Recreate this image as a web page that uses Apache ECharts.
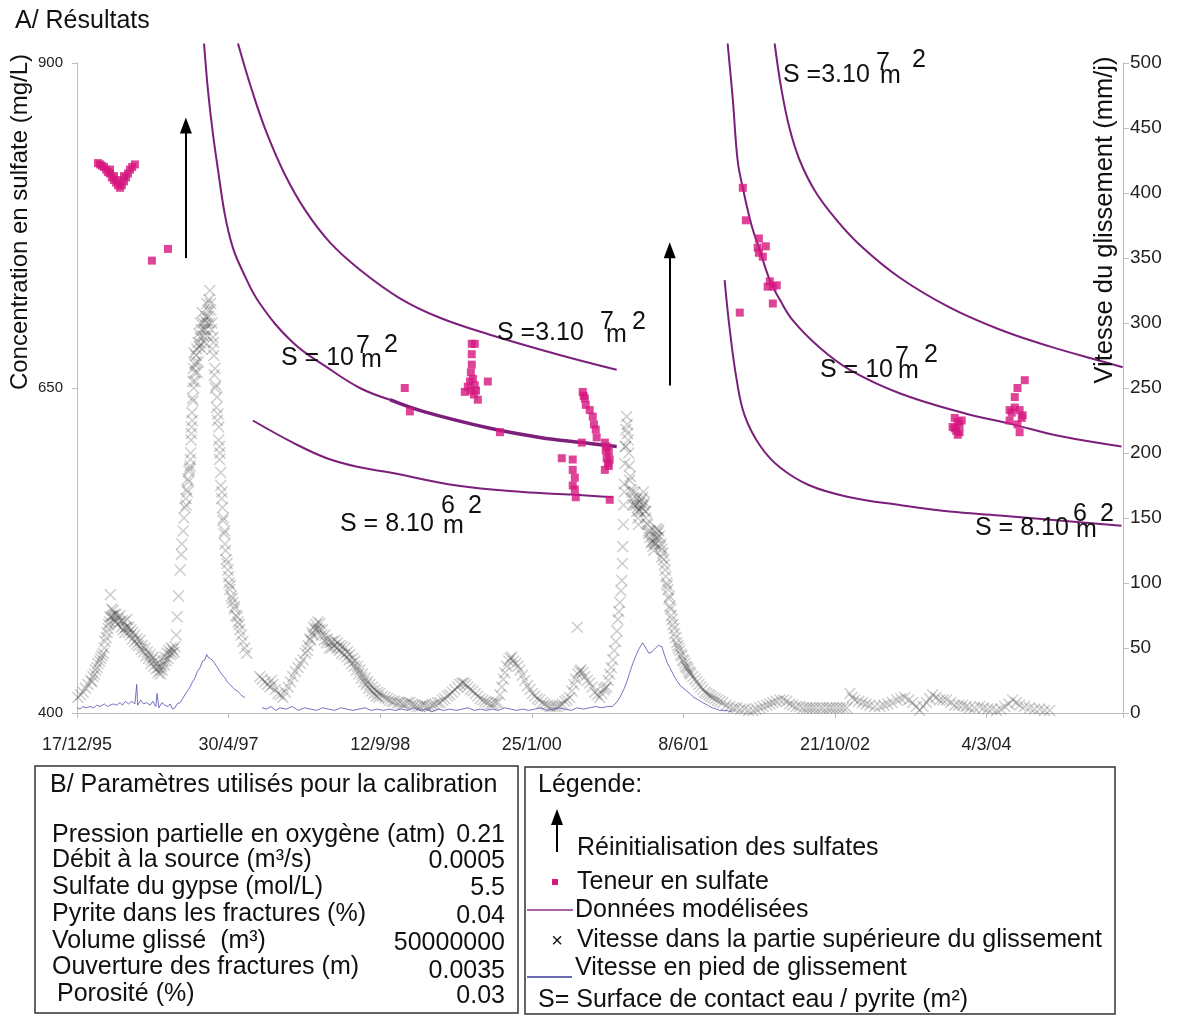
<!DOCTYPE html>
<html><head><meta charset="utf-8">
<script src="https://cdn.jsdelivr.net/npm/echarts@6/dist/echarts.min.js"></script>
<style>html,body{margin:0;padding:0;background:#fff}#c{width:1177px;height:1017px}</style>
</head><body><div id="c"></div>
<script>
// x values = days since 17/12/95
const tickLabels = ['17/12/95','30/4/97','12/9/98','25/1/00','8/6/01','21/10/02','4/3/04'];

// Teneur en sulfate (mg/L), left axis
const sulfate = [
[69,823],[76,822],[82,821],[89,820],[96,818],[102,816],[109,815],[115,812],[122,810],[129,808],[135,806],[142,804],[148,806],[155,809],[162,812],[168,815],[175,818],[182,820],[191,822],[109,818],[122,813],[135,810],[155,813],
[247,748],[300,757],
[1081,650],[1098,632],
[1302,684],[1312,684],[1302,676],[1302,668],[1299,662],[1296,655],[1306,657],[1289,651],[1279,647],[1299,648],[1312,652],[1316,648],[1309,645],[1355,655],[1322,641],
[1395,616],
[1599,596],[1635,595],[1635,587],[1642,581],[1635,575],[1642,572],[1645,566],
[1668,647],[1671,644],[1675,642],[1678,637],[1691,633],[1701,628],[1705,622],[1711,618],[1714,612],[1665,608],
[1741,608],[1744,602],[1747,596],[1751,592],[1754,601],[1741,587],[1757,595],[1747,605],[1754,590],[1757,564],
[2196,804],[2206,779],[2249,765],[2245,758],[2272,759],[2249,754],[2262,751],[2285,732],[2278,728],[2308,729],[2295,728],[2295,715],[2186,708],
[2895,627],[2905,624],[2911,622],[2895,619],[2911,616],[2905,614],[2918,625],[2888,620],[2900,617],
[3126,656],[3102,650],[3093,643],[3076,633],[3083,631],[3109,633],[3119,629],[3076,625],[3102,622],[3109,616],[3093,635],[3116,627]
];

// Données modélisées (mg/L), left axis
const modelS1e7a = [[419,915],[432,879],[448,846],[465,818],[488,783],[514,758],[544,741],[603,715],[712,685],[824,666],[933,650],[1032,641]];
const modelS1e7aTail = [[1032,641],[1141,632],[1362,619],[1527,612],[1668,608],[1780,605]];
const modelS3e7a = [[531,915],[577,879],[626,846],[686,814],[752,787],[834,762],[933,741],[1065,719],[1197,704],[1362,691],[1583,676],[1780,664]];
const modelS8e6a = [[580,625],[712,608],[824,596],[933,589],[1032,585],[1253,575],[1470,570],[1635,568],[1767,566]];
const modelS3e7b = [[2301,915],[2324,879],[2351,849],[2384,825],[2433,802],[2499,781],[2582,760],[2713,735],[2878,712],[3043,695],[3208,682],[3373,671],[3449,666]];
const modelS1e7b = [[2146,915],[2163,872],[2179,825],[2196,804],[2225,775],[2252,756],[2285,733],[2318,718],[2361,702],[2450,681],[2549,664],[2713,646],[2921,631],[3086,622],[3241,613],[3445,605]];
const modelS8e6b = [[2136,733],[2153,695],[2176,656],[2202,629],[2252,606],[2318,589],[2417,575],[2549,566],[2713,560],[2878,555],[3043,552],[3241,548],[3445,544]];

// Vitesse dans la partie supérieure du glissement (mm/j), right axis
const vitesseHaut = [
[3,12],[12,14],[20,16],[28,19],[36,22],[45,25],[53,28],[61,33],[69,38],[78,42],[86,46],[92,55],[99,62],[104,68],[109,74],[114,80],[119,79],[124,76],[129,76],[135,73],[142,75],[148,71],[155,70],[160,66],[165,72],[171,66],[178,64],[184,62],[191,60],[198,57],[208,56],[215,52],[224,50],[232,47],[241,45],[246,41],[251,43],[257,40],[264,38],[269,35],[274,33],[279,36],[284,40],[290,43],[297,46],[303,48],[310,50],[316,49],[323,51],[327,60],[330,74],[335,90],[340,110],[344,122],[346,130],[350,140],[353,150],[356,158],[359,165],[362,172],[366,180],[369,186],[373,190],[375,200],[376,210],[378,220],[379,231],[381,242],[382,255],[384,265],[386,277],[389,268],[392,270],[395,280],[399,285],[402,292],[406,289],[409,284],[412,280],[416,300],[419,295],[422,302],[425,305],[428,315],[432,310],[435,318],[438,325],[441,310],[445,300],[448,289],[451,275],[455,265],[458,252],[462,243],[465,230],[468,220],[470,205],[471,200],[474,185],[478,170],[480,158],[481,148],[485,138],[488,130],[492,118],[498,110],[501,100],[504,95],[509,90],[514,85],[519,80],[524,75],[531,70],[537,64],[542,60],[547,55],[553,50],[560,46],[110,91],
[50,24],[58,30],[66,35],[74,40],[82,44],[90,50],[97,58],[103,65],[108,70],[113,74],[118,75],[123,72],[128,70],[133,68],[140,70],[146,66],[152,64],[158,62],[164,66],[170,62],[176,60],[183,57],[190,55],[197,53],[204,52],[212,49],[220,47],[228,44],[236,42],[244,38],[253,36],[261,34],[268,31],[276,30],[282,33],[288,37],[294,40],[300,42],[307,45],[313,46],[320,47],
[360,160],[364,170],[368,178],[371,188],[374,195],[377,215],[380,225],[383,240],[385,250],[388,262],[390,255],[393,275],[396,262],[400,270],[403,282],[407,300],[410,295],[413,308],[417,290],[420,285],[424,295],[427,300],[430,290],[433,305],[436,300],[440,315],[443,295],[446,280],[450,285],[453,260],[456,250],[460,235],[463,225],[467,210],[470,195],[474,175],[477,165],[483,150],[487,140],[490,125],[495,115],[500,105],[506,98],[512,88],[520,82],[528,74],[535,68],
[603,28],[611,26],[620,24],[628,22],[636,20],[641,25],[646,22],[654,18],[663,15],[671,14],[679,12],[687,16],[696,20],[704,24],[712,28],[720,32],[729,35],[737,38],[745,41],[753,46],[762,52],[768,57],[775,62],[781,66],[788,68],[795,70],[801,69],[809,64],[818,60],[826,57],[834,54],[842,55],[851,56],[859,54],[867,52],[875,51],[884,50],[892,47],[900,45],[909,42],[917,40],[925,36],[933,33],[942,30],[950,27],[958,24],[966,22],[975,20],[983,18],[991,16],[999,15],[1008,13],[1016,12],[1024,11],[1032,10],[1040,9],[1048,9],[1057,8],[1065,8],[1073,7],[1081,7],[1090,8],[1098,8],[1106,7],[1114,6],[1122,5],[1131,5],[1139,6],[1147,6],[1155,5],[1164,5],[1172,6],[1180,7],[1189,8],[1197,8],[1205,10],[1213,11],[1222,13],[1230,14],[1238,16],[1246,18],[1255,20],[1263,22],[1270,23],[1276,23],[1283,22],[1289,20],[1297,18],[1306,17],[1314,15],[1322,13],[1330,11],[1339,10],[1347,9],[1355,8],[1364,7],[1372,7],[1380,8],[1388,8],[1395,14],[1401,20],[1406,26],[1411,31],[1417,36],[1424,40],[1429,42],[1434,43],[1440,40],[1447,38],[1454,36],[1461,33],[1469,29],[1477,25],[1486,21],[1494,18],[1502,15],[1510,13],[1518,11],[1526,10],[1535,8],[1543,7],[1551,6],[1559,5],[1567,5],[1576,5],[1584,5],[1592,6],[1600,7],[1609,9],[1617,10],[1625,12],[1632,17],[1639,22],[1645,26],[1652,30],[1657,32],[1662,33],[1668,31],[1675,28],[1683,25],[1691,23],[1699,20],[1708,16],[1716,14],[1724,12],[1731,15],[1737,18],[1742,19],[1747,20],[1752,25],[1757,30],[1762,35],[1767,41],[1772,48],[1777,55],[1781,63],[1784,72],[1787,78],[1790,85],[1794,94],[1797,102],[1799,115],[1800,128],[1802,145],[1803,160],[1805,176],[1807,192],[1808,205],[1810,218],[1813,228],[1816,215],[1820,200],[1823,179],[1828,172],[1833,165],[1838,162],[1843,160],[1846,155],[1850,150],[1853,156],[1856,162],[1861,164],[1866,166],[1869,160],[1873,155],[1876,150],[1879,146],[1884,140],[1889,135],[1894,131],[1899,128],[1904,131],[1909,135],[1913,138],[1916,141],[1921,136],[1926,130],[1929,126],[1932,123],[1937,114],[1942,105],[1945,100],[1949,95],[1952,88],[1955,82],[1960,75],[1965,68],[1971,61],[1978,54],[1984,50],[1991,45],[1998,41],[2005,38],[2011,35],[2018,32],[2024,30],[2031,28],[2038,26],[2044,24],[2051,22],[2057,20],[2064,18],[2071,16],[2077,15],[2084,14],[2090,13],[2097,12],[2105,11],[2113,10],[2121,9],[2130,8],[2141,6],[2153,5],[2165,4],[2176,4],[2189,3],[2202,3],[2215,2],[2229,2],[2240,3],[2252,4],[2263,5],[2275,6],[2285,7],[2295,8],[2306,9],[2318,10],[2330,10],[2341,9],[2351,7],[2361,6],[2372,5],[2384,5],[2395,4],[2407,4],[2417,4],[2427,4],[2437,4],[2450,4],[2460,4],[2473,4],[2483,4],[2493,4],[2505,4],[2516,4],[2527,4],[2539,4],[2549,15],[2557,12],[2565,10],[2578,9],[2591,8],[2603,7],[2615,6],[2631,5],[2648,5],[2661,6],[2674,7],[2689,8],[2704,10],[2717,11],[2730,12],[2743,10],[2756,8],[2768,5],[2779,2],[2791,5],[2802,8],[2812,11],[2822,14],[2833,12],[2845,10],[2856,10],[2868,10],[2882,8],[2895,6],[2908,6],[2921,6],[2933,5],[2944,4],[2960,4],[2977,5],[2990,4],[3004,3],[3018,3],[3033,2],[3047,3],[3060,5],[3073,7],[3086,10],[3098,8],[3109,6],[3125,5],[3142,4],[3158,3],[3175,3],[3191,2],[3208,2],[1650,66],
[760,48],[770,56],[778,60],[786,64],[793,65],[800,64],[807,60],[815,56],[823,54],[832,50],[840,50],[849,52],[857,50],[865,48],[873,46],[882,45],[890,43],[898,41],[906,38],[914,36],[922,33],[930,30],[938,27],[946,24],[954,22],[962,19],[971,17],[979,15],[987,13],[995,12],
[1805,170],[1810,205],[1815,222],[1818,210],[1822,190],[1825,182],[1830,170],[1835,160],[1840,170],[1845,165],[1848,158],[1852,145],[1858,155],[1863,158],[1868,170],[1872,162],[1877,155],[1882,145],[1886,138],[1891,140],[1896,132],[1902,125],[1907,130],[1911,142],[1915,135],[1919,140],[1924,128],[1928,120],[1935,118],[1940,110],[1947,98],[1954,90],[1958,80],[1963,72],[1969,65],[1975,58],[1982,52],[1988,48],[1995,44],[2001,40],[2008,36],[2015,34],[2021,31]
];

// Vitesse en pied de glissement (mm/j), right axis
const vitessePiedA = [[0,4],[10,3],[20,5],[30,4],[43,5],[55,4],[65,6],[76,5],[90,7],[100,5],[109,6],[120,7],[130,6],[142,8],[150,6],[160,9],[170,7],[180,9],[191,7],[197,22],[200,6],[210,10],[220,7],[230,8],[241,6],[250,9],[260,5],[264,15],[270,4],[280,8],[290,6],[300,5],[307,7],[315,3],[323,4],[330,7],[340,8],[348,11],[356,14],[364,17],[373,20],[381,24],[389,27],[397,32],[406,35],[414,40],[422,41],[428,45],[432,43],[438,44],[445,41],[450,42],[455,38],[463,35],[471,32],[480,29],[488,27],[496,24],[504,22],[512,20],[521,18],[529,17],[537,15],[545,13],[554,12]];
const vitessePiedB = [[610,4],[625,3],[640,5],[655,2],[670,4],[690,3],[710,5],[730,2],[750,4],[770,3],[790,2],[810,4],[830,3],[850,2],[870,4],[890,3],[910,2],[930,3],[950,4],[970,2],[990,3],[1010,2],[1030,3],[1050,2],[1070,3],[1090,2],[1110,4],[1130,2],[1150,3],[1170,1],[1190,3],[1210,2],[1230,3],[1250,2],[1270,3],[1290,4],[1310,2],[1330,3],[1350,2],[1370,3],[1390,2],[1410,4],[1430,3],[1450,2],[1470,3],[1490,2],[1510,3],[1530,4],[1550,2],[1570,3],[1590,4],[1610,3],[1630,2],[1650,4],[1670,3],[1690,4],[1710,5],[1730,4],[1750,5],[1765,5],[1775,7],[1785,10],[1795,14],[1805,19],[1815,25],[1823,31],[1833,38],[1845,45],[1855,50],[1866,54],[1876,50],[1886,46],[1896,47],[1908,50],[1918,52],[1929,51],[1940,43],[1948,38],[1955,35],[1966,30],[1978,25],[1990,21],[2005,18],[2021,15],[2035,12],[2050,10],[2064,8],[2080,6],[2095,4],[2110,3],[2120,2],[2140,2],[2160,1]];

// Réinitialisation des sulfates (arrows), [day, mg/L] start -> end
const resets = [[[359,750],[359,852]],[[1955,652],[1955,756]]];

const FONT = '"Liberation Sans", Arial, sans-serif';
const PURPLE = '#7b1f7b';
const MAGENTA = '#d6177f';
const BLUE = '#5b5bb8';
const XSYM = 'path://M0,0.9 L0.9,0 L5,4.1 L9.1,0 L10,0.9 L5.9,5 L10,9.1 L9.1,10 L5,5.9 L0.9,10 L0,9.1 L4.1,5 Z';

function modelSeries(data, w) {
  return {type:'line', yAxisIndex:0, data:data, smooth:0.4, symbol:'none', clip:false, z:4,
    lineStyle:{color:PURPLE, width:w||2}, silent:true};
}

function txt(text, x, y, size, opts) {
  opts = opts || {};
  return {type:'text', x:x, y:y, rotation:opts.rot||0, z:100,
    style:{text:text, fontSize:size, fontFamily:FONT, fill:opts.fill||'#111',
      align:opts.align||'left', verticalAlign:'middle'}};
}
function sLabel(parts) {
  return parts.map(p => txt(p[0], p[1], p[2], 25));
}

const BF = 25;
const graphics = [
  txt('A/ Résultats', 15, 21, 25),
  txt('Concentration en sulfate (mg/L)', 20, 222, 24, {rot:Math.PI/2, align:'center'}),
  txt('Vitesse du glissement (mm/j)', 1105, 220, 25.5, {rot:Math.PI/2, align:'center'}),
  ...sLabel([['S = 10',281,358],['7',356,346],['m',361,360],['2',384,345]]),
  ...sLabel([['S =3.10',497,333],['7',600,322],['m',606,335],['2',632,322]]),
  ...sLabel([['S = 8.10',340,524],['6',441,506],['m',443,526],['2',468,506]]),
  ...sLabel([['S =3.10',783,75],['7',876,63],['m',880,76],['2',912,60]]),
  ...sLabel([['S = 10',820,370],['7',895,357],['m',898,371],['2',924,355]]),
  ...sLabel([['S = 8.10',975,528],['6',1073,514],['m',1076,530],['2',1100,514]]),
  // Box B
  {type:'rect', shape:{x:35,y:766,width:483,height:247}, style:{fill:'#fff', stroke:'#333', lineWidth:1.5}, z:90},
  txt('B/ Paramètres utilisés pour la calibration', 50, 785, BF),
  txt('Pression partielle en oxygène (atm)', 52, 835, BF), txt('0.21', 505, 835, BF, {align:'right'}),
  txt('Débit à la source (m³/s)', 52, 860, BF), txt('0.0005', 505, 861, BF, {align:'right'}),
  txt('Sulfate du gypse (mol/L)', 52, 887, BF), txt('5.5', 505, 888, BF, {align:'right'}),
  txt('Pyrite dans les fractures (%)', 52, 914, BF), txt('0.04', 505, 916, BF, {align:'right'}),
  txt('Volume glissé  (m³)', 52, 941, BF), txt('50000000', 505, 943, BF, {align:'right'}),
  txt('Ouverture des fractures (m)', 52, 967, BF), txt('0.0035', 505, 971, BF, {align:'right'}),
  txt('Porosité (%)', 57, 994, BF), txt('0.03', 505, 996, BF, {align:'right'}),
  // Legend box
  {type:'rect', shape:{x:525,y:767,width:590,height:247}, style:{fill:'#fff', stroke:'#333', lineWidth:1.5}, z:90},
  txt('Légende:', 538, 785, BF),
  {type:'line', shape:{x1:557,y1:852,x2:557,y2:822}, style:{stroke:'#000', lineWidth:2}, z:100},
  {type:'polygon', shape:{points:[[557,809],[551,825],[563,825]]}, style:{fill:'#000'}, z:100},
  txt('Réinitialisation des sulfates', 577, 848, BF),
  {type:'rect', shape:{x:552,y:879,width:6,height:6}, style:{fill:MAGENTA}, z:100},
  txt('Teneur en sulfate', 577, 882, BF),
  {type:'line', shape:{x1:527,y1:910,x2:573,y2:910}, style:{stroke:'#8a2f8a', lineWidth:1.5}, z:100},
  txt('Données modélisées', 575, 910, BF),
  txt('×', 557, 941, 20, {align:'center'}),
  txt('Vitesse dans la partie supérieure du glissement', 577, 940, BF),
  {type:'line', shape:{x1:527,y1:977,x2:572,y2:977}, style:{stroke:'#3b3b9b', lineWidth:1.5}, z:100},
  txt('Vitesse en pied de glissement', 575, 968, BF),
  txt('S= Surface de contact eau / pyrite (m²)', 538, 1000, BF)
];

const chart = echarts.init(document.getElementById('c'), null, {renderer:'canvas'});
chart.setOption({
  animation:false,
  backgroundColor:'#fff',
  grid:{left:77, right:54, top:63, bottom:304},
  xAxis:{type:'value', min:0, max:3450, interval:500,
    axisLine:{show:true, lineStyle:{color:'#bdbdbd', width:1}},
    axisTick:{show:true, length:5, lineStyle:{color:'#bdbdbd'}},
    splitLine:{show:false},
    axisLabel:{fontSize:18, fontFamily:FONT, color:'#222', margin:23,
      formatter:v => (v % 500 === 0 && tickLabels[v/500]) ? tickLabels[v/500] : ''}},
  yAxis:[
    {type:'value', min:400, max:900, interval:250, position:'left',
      axisLine:{show:true, lineStyle:{color:'#bdbdbd'}},
      axisTick:{show:true, length:5, lineStyle:{color:'#bdbdbd'}},
      splitLine:{show:false},
      axisLabel:{fontSize:15, fontFamily:FONT, color:'#222', margin:14}},
    {type:'value', min:0, max:500, interval:50, position:'right',
      axisLine:{show:true, lineStyle:{color:'#bdbdbd'}},
      axisTick:{show:true, length:6, lineStyle:{color:'#bdbdbd'}},
      splitLine:{show:false},
      axisLabel:{fontSize:19, fontFamily:FONT, color:'#222', margin:7}}
  ],
  series:[
    {type:'scatter', yAxisIndex:1, data:vitesseHaut, symbol:XSYM, symbolSize:12, z:1,
      itemStyle:{color:'rgba(55,55,55,0.3)'}, silent:true},
    {type:'line', yAxisIndex:1, data:vitessePiedA, symbol:'none', z:2,
      lineStyle:{color:BLUE, width:1, opacity:0.85}, silent:true},
    {type:'line', yAxisIndex:1, data:vitessePiedB, symbol:'none', z:2,
      lineStyle:{color:BLUE, width:1, opacity:0.85}, silent:true},
    modelSeries(modelS1e7a, 2),
    modelSeries(modelS1e7aTail, 3.5),
    modelSeries(modelS3e7a, 2),
    modelSeries(modelS8e6a, 2),
    modelSeries(modelS3e7b, 2),
    modelSeries(modelS1e7b, 2),
    modelSeries(modelS8e6b, 2),
    {type:'scatter', yAxisIndex:0, data:sulfate, symbol:'rect', symbolSize:8, z:5,
      itemStyle:{color:MAGENTA}, silent:true,
      markLine:{silent:true, symbol:['none','triangle'], symbolSize:[12,16], z:6,
        lineStyle:{type:'solid', color:'#000', width:2}, label:{show:false},
        data: resets.map(r => [{coord:r[0]},{coord:r[1]}])}}
  ],
  graphic:graphics
});
</script>
</body></html>
